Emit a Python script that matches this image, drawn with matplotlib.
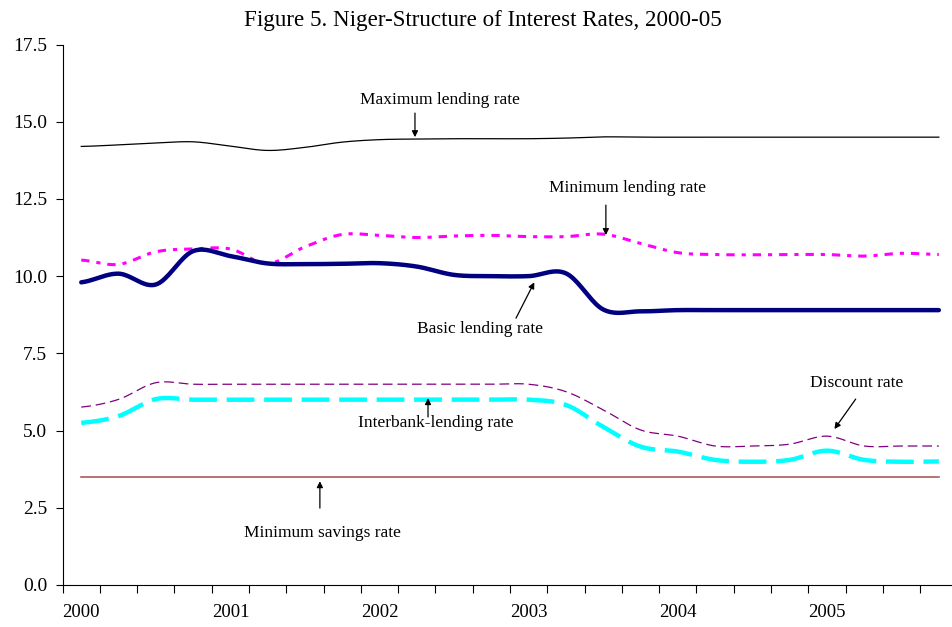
import matplotlib
matplotlib.use("Agg")
import matplotlib.pyplot as plt
import numpy as np

plt.rcParams["font.family"] = ["Liberation Serif", "DejaVu Serif"]
plt.rcParams["lines.scale_dashes"] = False

# Quarterly observations, 2000Q1 - 2005Q4
years = ["2000", "2001", "2002", "2003", "2004", "2005"]

max_lending = [14.20, 14.25, 14.31, 14.35, 14.21, 14.07, 14.17, 14.34,
               14.42, 14.44, 14.45, 14.45, 14.45, 14.47, 14.51, 14.50,
               14.50, 14.50, 14.50, 14.50, 14.50, 14.50, 14.50, 14.50]
min_lending = [10.52, 10.38, 10.79, 10.88, 10.88, 10.41, 10.95, 11.35,
               11.32, 11.25, 11.30, 11.32, 11.28, 11.28, 11.36, 11.06,
               10.76, 10.70, 10.69, 10.70, 10.70, 10.65, 10.74, 10.70]
basic_lending = [9.80, 10.08, 9.73, 10.81, 10.65, 10.41, 10.39, 10.40,
                 10.42, 10.31, 10.04, 10.00, 10.00, 10.09, 8.92, 8.86,
                 8.90, 8.90, 8.90, 8.90, 8.90, 8.90, 8.90, 8.90]
discount = [5.76, 6.01, 6.55, 6.50, 6.50, 6.50, 6.50, 6.50,
            6.50, 6.50, 6.50, 6.50, 6.50, 6.26, 5.67, 5.02,
            4.82, 4.50, 4.50, 4.56, 4.82, 4.50, 4.50, 4.50]
interbank = [5.25, 5.47, 6.02, 6.00, 6.00, 6.00, 6.00, 6.00,
             6.00, 6.00, 6.00, 6.00, 6.00, 5.83, 5.12, 4.48,
             4.32, 4.05, 3.99, 4.05, 4.35, 4.05, 3.99, 4.00]
min_savings = [3.5] * 24


def smooth(y, n=20):
    """Catmull-Rom spline through the points (like a smoothed line)."""
    y = np.asarray(y, float)
    p = np.concatenate([[y[0]], y, [y[-1]]])
    xs, ys = [], []
    t = np.linspace(0, 1, n, endpoint=False)
    for i in range(len(y) - 1):
        p0, p1, p2, p3 = p[i], p[i + 1], p[i + 2], p[i + 3]
        seg = 0.5 * ((2 * p1) + (-p0 + p2) * t
                     + (2 * p0 - 5 * p1 + 4 * p2 - p3) * t ** 2
                     + (-p0 + 3 * p1 - 3 * p2 + p3) * t ** 3)
        xs.append(i + t)
        ys.append(seg)
    xs.append([len(y) - 1])
    ys.append([y[-1]])
    return np.concatenate(xs), np.concatenate(ys)


fig = plt.figure(figsize=(9.53, 6.27), dpi=100)
ax = fig.add_axes([0.0657, 0.067, 0.939, 0.862])

x, y = smooth(max_lending)
ax.plot(x, y, color="black", lw=0.9)
x, y = smooth(min_lending)
ax.plot(x, y, color="#FF00FF", lw=2.2, dashes=[6, 5, 3, 5])
x, y = smooth(basic_lending)
ax.plot(x, y, color="#000080", lw=3.2, solid_capstyle="round")
x, y = smooth(discount)
ax.plot(x, y, color="#800080", lw=0.9, dashes=[7, 3.5])
x, y = smooth(interbank)
ax.plot(x, y, color="#00FFFF", lw=3.2, dashes=[20, 7])
ax.plot(np.arange(24), min_savings, color="#A34B49", lw=1.1)

ax.set_xlim(-0.5, 23.5)
ax.set_ylim(0, 17.5)
ax.set_yticks(np.arange(0, 17.6, 2.5))
ax.set_yticklabels([f"{v:.1f}" for v in np.arange(0, 17.6, 2.5)])

# tick marks on quarter boundaries, year labels on the first quarter
ax.set_xticks(np.arange(-0.5, 23.6, 1))
ax.set_xticklabels([])
ax.set_xticks(np.arange(0, 24, 4), minor=True)
ax.set_xticklabels(years, minor=True)
ax.tick_params(axis="x", which="major", length=6, width=0.8, direction="out")
ax.tick_params(axis="x", which="minor", length=0, pad=14, labelsize=13.5)
ax.tick_params(axis="y", length=5, width=0.8, direction="out", labelsize=14, pad=6)

for s in ("top", "right"):
    ax.spines[s].set_visible(False)
for s in ("left", "bottom"):
    ax.spines[s].set_linewidth(0.8)

fig.text(0.507, 0.968, "Figure 5. Niger-Structure of Interest Rates, 2000-05",
         ha="center", va="center", fontsize=16.6)

arrow = dict(arrowstyle="-|>", color="black", lw=0.9, mutation_scale=9,
             shrinkA=0, shrinkB=0)
notes = [
    ("Maximum lending rate", (9.62, 15.70), (8.95, 15.28), (8.95, 14.50)),
    ("Minimum lending rate", (14.66, 12.85), (14.07, 12.30), (14.07, 11.33)),
    ("Basic lending rate", (10.69, 8.29), (11.66, 8.64), (12.15, 9.80)),
    ("Discount rate", (20.80, 6.54), (20.77, 6.02), (20.20, 5.05)),
    ("Interbank-lending rate", (9.51, 5.24), (9.30, 5.44), (9.30, 6.05)),
    ("Minimum savings rate", (6.46, 1.68), (6.40, 2.49), (6.40, 3.36)),
]
for label, txy, a0, a1 in notes:
    ax.text(*txy, label, ha="center", va="center", fontsize=12.5)
    ax.annotate("", xy=a1, xytext=a0, arrowprops=arrow)

fig.savefig("out.png", dpi=100)
